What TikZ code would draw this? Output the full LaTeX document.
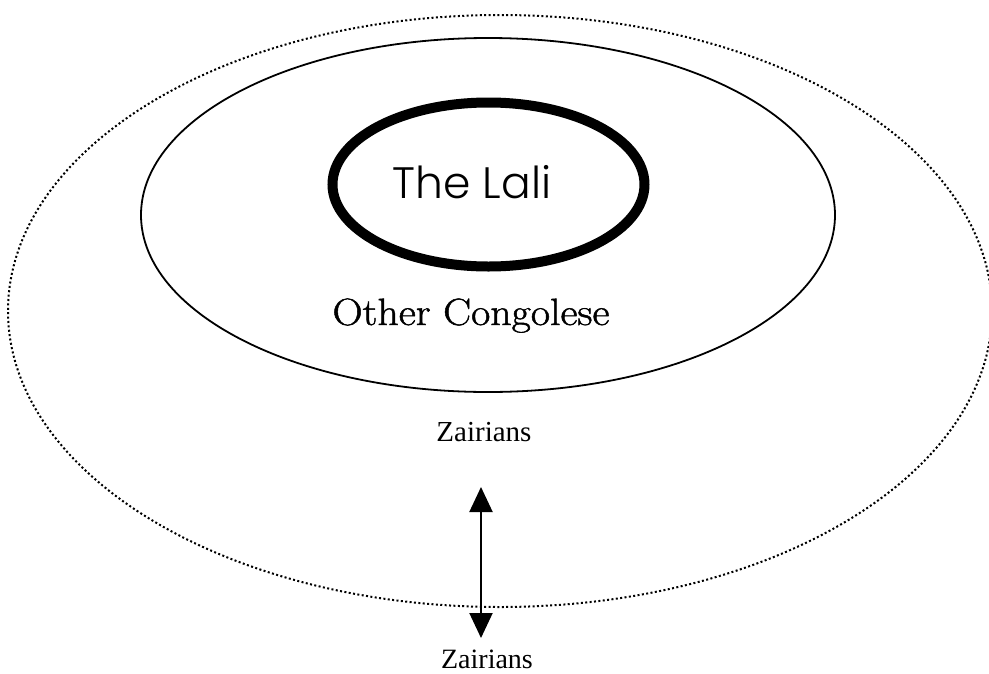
\documentclass[tikz,border=0pt]{standalone}
\usepackage{fontspec}
\newfontfamily\lalifont{Poppins Light}
\newfontfamily\timesfont{Liberation Serif}
\newfontfamily\congofont{Latin Modern Roman}[FakeBold=1.2]
\usetikzlibrary{arrows.meta}
\begin{document}
\begin{tikzpicture}[x=1pt,y=-1pt,
  outerring/.style={line width=2pt, dash pattern=on 2pt off 2.4pt},
  midring/.style={line width=1.8pt},
  innerring/.style={line width=10pt},
  lbl/.style={inner sep=0pt, anchor=base},
  biarrow/.style={line width=2pt, {Triangle[width=23pt,length=25pt]}-{Triangle[width=23pt,length=25pt]}}]
\useasboundingbox (0,0) rectangle (989,673);
\draw[outerring] (500,311) ellipse [x radius=492, y radius=296];
\draw[midring] (488,215) ellipse [x radius=347, y radius=177];
\draw[innerring] (488.5,184.5) ellipse [x radius=156, y radius=82];
\node[lbl] (lali) at (472,198) {\lalifont\fontsize{44}{44}\selectfont The Lali};
\node[lbl, xscale=1.1, transform shape] (other) at (471,325) {\congofont\fontsize{38}{38}\selectfont Other Congolese};
\node[lbl] (z1) at (484,441) {\timesfont\fontsize{29}{29}\selectfont Zairians};
\node[lbl] (z2) at (487,668) {\timesfont\fontsize{28}{28}\selectfont Zairians};
\coordinate (top) at (481,487);
\coordinate (bot) at (481,638);
\draw[biarrow] (top) -- (bot);
\end{tikzpicture}
\end{document}
